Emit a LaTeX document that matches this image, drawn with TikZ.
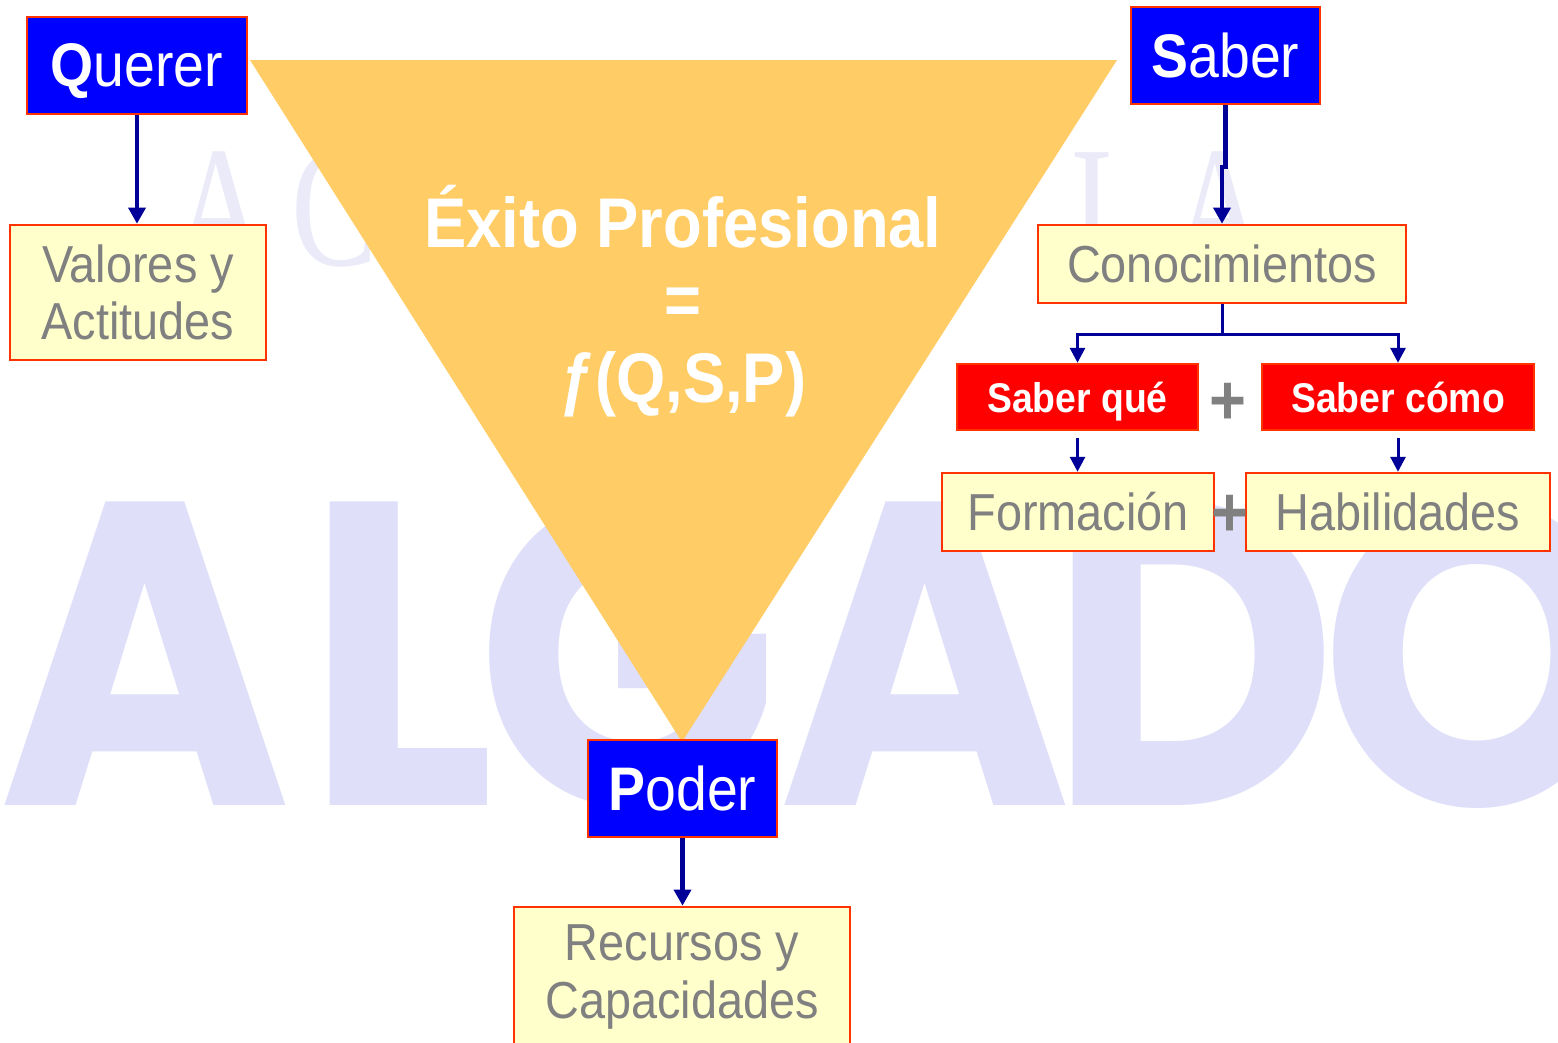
\documentclass[tikz,border=0pt]{standalone}
\usepackage{fontspec}
\setmainfont{Liberation Sans}[FakeStretch=0.9]
\newfontfamily\markfont{Poppins}[FakeStretch=0.92]
\newfontfamily\serifmark{Liberation Serif}[FakeStretch=0.75]
\usetikzlibrary{arrows.meta}

\definecolor{boxblue}{RGB}{0,0,255}
\definecolor{boxred}{RGB}{255,0,0}
\definecolor{cream}{RGB}{255,255,204}
\definecolor{rim}{RGB}{255,51,0}
\definecolor{navy}{RGB}{0,0,153}
\definecolor{textgray}{RGB}{128,128,128}
\definecolor{wedge}{RGB}{255,204,102}
\definecolor{lavender}{RGB}{223,223,250}
\definecolor{palelav}{RGB}{234,234,249}

\tikzset{
    keybox/.style={draw=rim, line width=0.7pt, fill=boxblue, text=white, inner sep=0pt,
        text depth=0pt, font=\fontsize{17.5}{20}\selectfont},
    itembox/.style={draw=rim, line width=0.7pt, fill=cream, text=textgray, inner sep=0pt,
        align=center, font=\fontsize{14.8}{16.4}\selectfont},
    tagbox/.style={draw=rim, line width=0.7pt, fill=boxred, text=white, inner sep=0pt,
        text depth=0pt, font=\bfseries\fontsize{11.8}{14}\selectfont},
    link/.style={navy, line width=1.15pt, -{Triangle[width=4.8pt,length=4.6pt]}},
    sublink/.style={navy, line width=0.85pt, -{Triangle[width=4.2pt,length=4.2pt]}},
    plus/.style={text=textgray, inner sep=0pt, font=\bfseries\fontsize{20}{20}\selectfont},
    bigmark/.style={text=lavender, inner sep=0pt, anchor=base,
        font=\markfont\bfseries\fontsize{123}{123}\selectfont},
    smallmark/.style={text=palelav, inner sep=0pt, anchor=base,
        font=\serifmark\fontsize{49}{49}\selectfont}
}

\begin{document}
\begin{tikzpicture}[x=0.01cm, y=-0.01cm]
        \useasboundingbox (0,0) rectangle (1558,1042);
        \clip (0,0) rectangle (1558,1042);
        \foreach \ch/\x in {A/220, C/335, I/1092, A/1219}
            {
                \node[smallmark] (top\x) at (\x,265) {\ch};
            }
        \foreach \ch/\x in {A/145, L/400, G/628, A/925, D/1193, O/1477}
            {
                \node[bigmark] (wm\x) at (\x,805) {\ch};
            }
        \fill[wedge] (250,60) -- (1117,60) -- (682,742) -- cycle;
        \node[align=center, text=white, font=\bfseries\fontsize{20}{22}\selectfont] (exito)
            at (683,301) {Éxito Profesional\\=\\ƒ(Q,S,P)};

        \node[keybox, minimum width=2.2cm, minimum height=0.97cm] (querer) at (137,65.5) {{\bfseries Q}uerer};
        \node[itembox, minimum width=2.56cm, minimum height=1.35cm] (valores) at (138,292.5) {Valores y\\Actitudes};
        \node[keybox, minimum width=1.89cm, minimum height=0.97cm] (saber) at (1225.5,55.5) {{\bfseries S}aber};
        \node[itembox, minimum width=3.68cm, minimum height=0.78cm] (conoc) at (1222,264) {Conocimientos};
        \node[tagbox, minimum width=2.41cm, minimum height=0.66cm] (saberque) at (1077.5,397) {Saber qué};
        \node[tagbox, minimum width=2.72cm, minimum height=0.66cm] (sabercomo) at (1398,397) {Saber cómo};
        \node[itembox, minimum width=2.72cm, minimum height=0.78cm] (formacion) at (1078,512) {Formación};
        \node[itembox, minimum width=3.04cm, minimum height=0.78cm] (habil) at (1398,512) {Habilidades};
        \node[keybox, minimum width=1.89cm, minimum height=0.97cm] (poder) at (682.5,788.5) {{\bfseries P}oder};
        \node[itembox, minimum width=3.36cm, minimum height=1.40cm] (recursos) at (682,977) {Recursos y\\Capacidades};

        \draw[link] (querer.south) -- (querer.south |- valores.north);
        \draw[link] (saber.south) -- ++(0,62) -| (conoc.north);
        \draw[sublink] (conoc.south) -- ++(0,30) coordinate (fork) -| (saberque.north);
        \draw[sublink] (fork) -| (sabercomo.north);
        \draw[sublink, shorten <=0.07cm] (saberque.south) -- (saberque.south |- formacion.north);
        \draw[sublink, shorten <=0.07cm] (sabercomo.south) -- (sabercomo.south |- habil.north);
        \draw[link] (poder.south) -- (poder.south |- recursos.north);

        \node[plus] (plusa) at (1228,404) {+};
        \node[plus] (plusb) at (1230,516) {+};
    \end{tikzpicture}
\end{document}
